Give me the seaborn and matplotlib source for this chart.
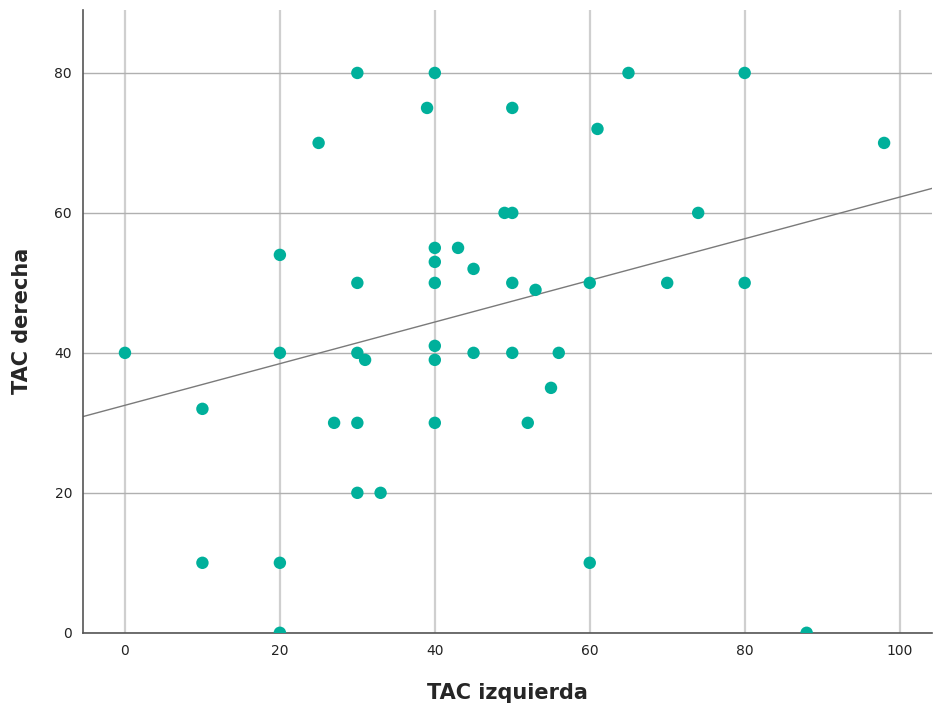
import matplotlib
matplotlib.use("Agg")
import matplotlib.pyplot as plt
import seaborn as sns
import pandas as pd

# Paired measurements: left vs right
tac_izquierda = [0, 10, 10, 20, 20, 20, 20, 25, 27, 30, 30, 30, 31, 30, 30, 33,
                 39, 40, 40, 40, 40, 40, 40, 40, 43, 45, 45, 49, 50, 50, 50, 50,
                 52, 53, 55, 56, 60, 60, 61, 65, 70, 74, 80, 80, 88, 98]
tac_derecha = [40, 32, 10, 54, 40, 10, 0, 70, 30, 80, 50, 40, 39, 30, 20, 20,
               75, 80, 55, 53, 50, 41, 39, 30, 55, 52, 40, 60, 60, 75, 50, 40,
               30, 49, 35, 40, 50, 10, 72, 80, 50, 60, 80, 50, 0, 70]

df = pd.DataFrame({"TAC izquierda": tac_izquierda, "TAC derecha": tac_derecha})

sns.set_style("white")
plt.rcParams["font.family"] = ["DejaVu Sans"]

fig = plt.figure(figsize=(9.34, 7.11), dpi=100)
ax = fig.add_axes([0.089, 0.110, 0.909, 0.876])

ax.set_xlim(-5.4, 104.2)
ax.set_ylim(0, 89)
ax.set_xticks([0, 20, 40, 60, 80, 100])
ax.set_yticks([0, 20, 40, 60, 80])

ax.xaxis.grid(True, color="#cfcfcf", linewidth=1.6)
ax.yaxis.grid(True, color="#b0b0b0", linewidth=1.0)
ax.set_axisbelow(True)

sns.regplot(data=df, x="TAC izquierda", y="TAC derecha", ax=ax, ci=None,
            truncate=False,
            scatter_kws=dict(s=80, color="#00B09B", edgecolor="none", alpha=1,
                             clip_on=True, zorder=3),
            line_kws=dict(color="#7a7a7a", linewidth=1.0, zorder=2))

ax.set_xlim(-5.4, 104.2)
ax.set_ylim(0, 89)

for side in ["top", "right"]:
    ax.spines[side].set_visible(False)
for side in ["left", "bottom"]:
    ax.spines[side].set_color("#555555")
    ax.spines[side].set_linewidth(1.2)

ax.tick_params(axis="both", length=0, labelsize=10, colors="#222222", pad=8)
ax.set_xlabel("TAC izquierda", fontsize=15, fontweight="bold", labelpad=18)
ax.set_ylabel("TAC derecha", fontsize=15, fontweight="bold", labelpad=16)

fig.savefig("out.png", dpi=100)
